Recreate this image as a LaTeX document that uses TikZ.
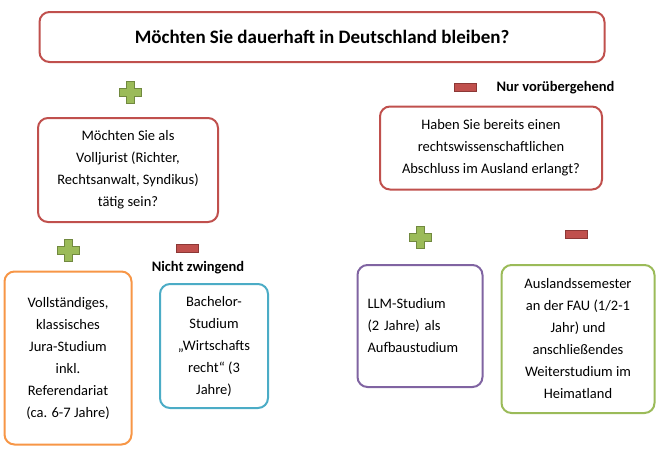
\documentclass[tikz,border=0pt]{standalone}
\usepackage{fontspec}
\setmainfont{Carlito}
\definecolor{rd}{RGB}{192,80,77}
\definecolor{org}{RGB}{247,150,70}
\definecolor{blu}{RGB}{75,172,198}
\definecolor{pur}{RGB}{128,100,162}
\definecolor{grn}{RGB}{155,187,89}
\definecolor{grnd}{RGB}{113,137,63}
\definecolor{rdd}{RGB}{140,56,54}
\tikzset{
 box/.style={draw=#1,line width=2pt,rounded corners=10pt,fill=white,align=center,font=\fontsize{14.5}{22}\selectfont,inner sep=3pt},
 lbl/.style={font=\bfseries\fontsize{14.5}{16}\selectfont}
}
\newcommand{\plusicon}[2]{%
 \fill[grn,draw=grnd,line width=0.6pt] (#1-4,#2-11) -- (#1+4,#2-11) -- (#1+4,#2-4) -- (#1+11,#2-4) -- (#1+11,#2+4) -- (#1+4,#2+4) -- (#1+4,#2+11) -- (#1-4,#2+11) -- (#1-4,#2+4) -- (#1-11,#2+4) -- (#1-11,#2-4) -- (#1-4,#2-4) -- cycle;}
\newcommand{\minusicon}[2]{%
 \fill[rd,draw=rdd,line width=0.6pt] (#1-11,#2-4) rectangle (#1+11,#2+4);}
\begin{document}
\begin{tikzpicture}[x=1pt,y=-1pt]
\useasboundingbox (0,0) rectangle (664,467);
\node[box=rd,minimum width=565,minimum height=50,font=\bfseries\fontsize{19}{21}\selectfont] (top) at (322,37) {Möchten Sie dauerhaft in Deutschland bleiben?};
\node[box=rd,minimum width=180,minimum height=104] (q1) at (128,170) {Möchten Sie als\\Volljurist (Richter,\\Rechtsanwalt, Syndikus)\\tätig sein?};
\node[box=rd,minimum width=222,minimum height=83] (q2) at (491,148) {Haben Sie bereits einen\\rechtswissenschaftlichen\\Abschluss im Ausland erlangt?};
\node[box=org,minimum width=127,minimum height=173] (b1) at (68,358) {Vollständiges,\\klassisches\\Jura-Studium\\inkl.\\Referendariat\\(ca. 6-7 Jahre)};
\node[box=blu,minimum width=108,minimum height=124] (b2) at (214,346) {Bachelor-\\Studium\\„Wirtschafts\\recht“ (3\\Jahre)};
\node[box=pur,minimum width=125,minimum height=122,align=left,text width=105] (b3) at (420,326) {LLM-Studium\\(2 Jahre) als\\Aufbaustudium};
\node[box=grn,minimum width=153,minimum height=148] (b4) at (578,339) {Auslandssemester\\an der FAU (1/2-1\\Jahr) und\\anschließendes\\Weiterstudium im\\Heimatland};
\plusicon{130}{92}
\minusicon{465}{87}
\node[lbl,anchor=west] (l1) at (493,88) {Nur vorübergehend};
\plusicon{68}{250}
\minusicon{187}{248}
\node[lbl] (l2) at (198,268) {Nicht zwingend};
\plusicon{420}{237}
\minusicon{576}{234}
\end{tikzpicture}
\end{document}
